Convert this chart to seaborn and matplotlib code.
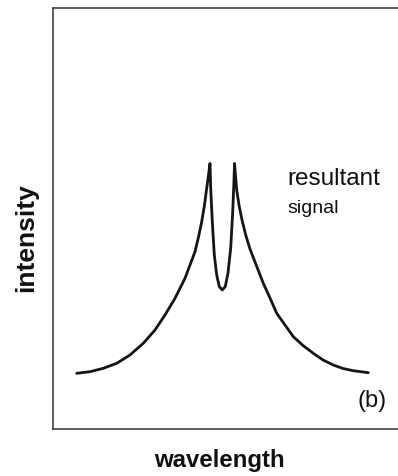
import seaborn as sns
import matplotlib.pyplot as plt
import pandas as pd

# points (arbitrary units: wavelength, intensity)
wavelength = [23.7, 37, 50.3, 63.7, 77, 90.3, 102, 112, 122, 132, 137, 142, 145.5,
              148.7, 151.5, 153.7, 155.5, 157,
              157.7, 159.3, 161.3, 163.7, 166.3, 169.3, 172.3, 175, 177.7, 179.7,
              181, 181.5,
              183.7, 186, 189, 193, 197, 202, 210.3, 217, 223.7, 232, 240.3, 250,
              260.3, 270, 280.3, 290, 300.3, 315.3]
intensity = [55.7, 57.3, 60.7, 65.7, 74, 85.7, 99, 114, 130.7, 150.7, 164, 177.3, 192,
             207.3, 224, 240.7, 254, 265.5,
             240.7, 207.3, 174, 154, 142.3, 139, 142.5, 156, 181, 217,
             249, 265.5,
             239, 224, 209, 193, 180, 167, 145.7, 131, 115.7, 104, 92.3, 83.5,
             75.7, 69, 64, 60.5, 58.3, 56.3]
df = pd.DataFrame({"wavelength": wavelength, "intensity": intensity})

sns.set_style("white")
plt.rcParams['font.family'] = ['Liberation Sans', 'DejaVu Sans']

fig = plt.figure(figsize=(3.98, 4.76), dpi=100)
ax = fig.add_axes([53/398, 47/476, 345/398, 421/476])

sns.lineplot(data=df, x="wavelength", y="intensity", ax=ax, color="#151515",
             linewidth=2.0, estimator=None, sort=False)

ax.set_xlim(0, 345)
ax.set_ylim(0, 421)
ax.set_xticks([])
ax.set_yticks([])
ax.set_xlabel("")
ax.set_ylabel("")
for side in ["left", "top", "bottom"]:
    ax.spines[side].set_color("#333333")
    ax.spines[side].set_linewidth(1.1)
ax.spines["right"].set_visible(False)

ax.text(234, 244, "resultant", fontsize=17.5, ha="left", va="baseline", color="#111111")
ax.text(234, 216, "signal", fontsize=14, ha="left", va="baseline", color="#111111")
ax.text(334, 22, "(b)", fontsize=17, ha="right", va="baseline", color="#111111")

fig.text(26/398, 1 - 238/476, "intensity", fontsize=19, fontweight="bold",
         rotation=90, ha="center", va="center", color="#111111")
fig.text(219.5/398, 1 - 460/476, "wavelength", fontsize=17.3, fontweight="bold",
         ha="center", va="center", color="#111111")

fig.savefig("out.png", dpi=100)
